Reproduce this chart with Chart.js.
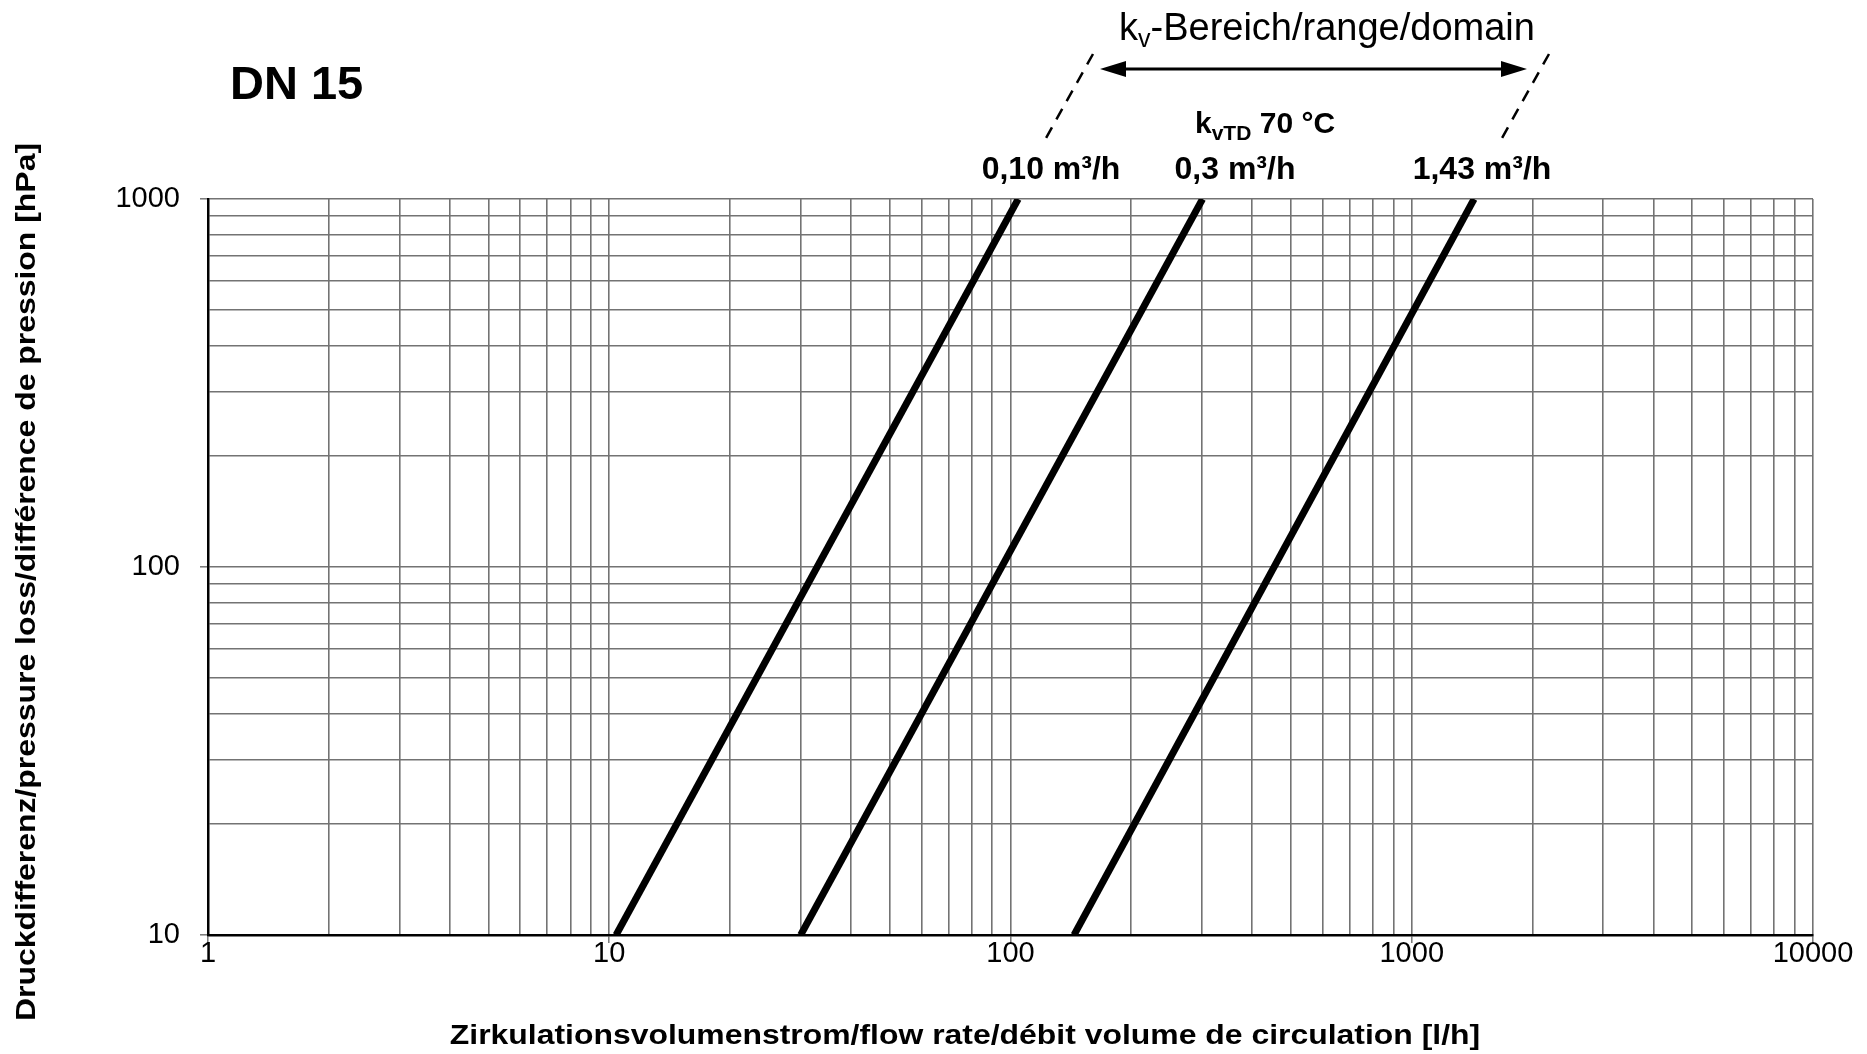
<!DOCTYPE html>
<html>
<head>
<meta charset="utf-8">
<title>DN 15</title>
<script src="https://cdn.jsdelivr.net/npm/chart.js@4.4.1/dist/chart.umd.min.js"></script>
<style>
  html, body { margin: 0; padding: 0; background: #fff; }
  #wrap { width: 1867px; height: 1054px; }
</style>
</head>
<body>
<div id="wrap"><canvas id="chart"></canvas></div>
<script>
// pressure difference at both ends of each line [hPa]
var pressureHpa = [10, 1000];
// flow rate [l/h] for each kv line
var flowKv010 = [10.4, 104.5];
var flowKv03 = [30, 301];
var flowKv143 = [144, 1430];
var lineLabels = ['0,10 m³/h', '0,3 m³/h', '1,43 m³/h'];

var xTickLabels = [1, 10, 100, 1000, 10000];
var yTickLabels = [10, 100, 1000];

var FONT = '"Liberation Sans", Arial, sans-serif';

// all 1..9 grid steps inside each decade
function logGrid(decades) {
    var out = [];
    for (var i = 0; i < decades.length - 1; i++) {
        for (var s = 1; s < 10; s++) out.push(decades[i] * s);
    }
    out.push(decades[decades.length - 1]);
    return out;
}

function makeSet(xs, label) {
    return {
        label: label,
        data: xs.map(function (x, i) { return { x: x, y: pressureHpa[i] }; }),
        showLine: true,
        borderColor: '#000',
        borderWidth: 7,
        pointRadius: 0,
        borderCapStyle: 'butt',
        clip: 0
    };
}

function drawText(ctx, parts, x, y, align) {
    // parts: [text, font, dy]
    var total = 0;
    parts.forEach(function (p) { ctx.font = p[1]; total += ctx.measureText(p[0]).width; });
    var cx = align === 'center' ? x - total / 2 : x;
    parts.forEach(function (p) {
        ctx.font = p[1];
        ctx.fillText(p[0], cx, y + (p[2] || 0));
        cx += ctx.measureText(p[0]).width;
    });
}

var annotations = {
    id: 'annotations',
    afterDraw: function (chart) {
        var ctx = chart.ctx;
        ctx.save();
        ctx.fillStyle = '#000';
        ctx.strokeStyle = '#000';
        ctx.textBaseline = 'alphabetic';
        ctx.textAlign = 'left';

        ctx.font = 'bold 47px ' + FONT;
        ctx.fillText('DN 15', 230, 99);

        drawText(ctx, [
            ['k', '38px ' + FONT, 0],
            ['v', '25px ' + FONT, 7],
            ['-Bereich/range/domain', '38px ' + FONT, 0]
        ], 1119, 40, 'left');

        drawText(ctx, [
            ['k', 'bold 30px ' + FONT, 0],
            ['vTD', 'bold 21px ' + FONT, 7],
            [' 70 °C', 'bold 30px ' + FONT, 0]
        ], 1195, 133, 'left');

        ctx.font = 'bold 32px ' + FONT;
        ctx.textAlign = 'center';
        ctx.fillText(lineLabels[0], 1051, 179);
        ctx.fillText(lineLabels[1], 1235, 179);
        ctx.fillText(lineLabels[2], 1482, 179);

        // double arrow
        var ay = 69, ax1 = 1100, ax2 = 1527;
        ctx.lineWidth = 3;
        ctx.beginPath();
        ctx.moveTo(ax1 + 20, ay);
        ctx.lineTo(ax2 - 20, ay);
        ctx.stroke();
        ctx.beginPath();
        ctx.moveTo(ax1, ay); ctx.lineTo(ax1 + 26, ay - 8); ctx.lineTo(ax1 + 26, ay + 8); ctx.closePath();
        ctx.fill();
        ctx.beginPath();
        ctx.moveTo(ax2, ay); ctx.lineTo(ax2 - 26, ay - 8); ctx.lineTo(ax2 - 26, ay + 8); ctx.closePath();
        ctx.fill();

        // dashed guides
        ctx.lineWidth = 2.5;
        ctx.setLineDash([12, 9]);
        ctx.beginPath();
        ctx.moveTo(1093, 54); ctx.lineTo(1046, 138);
        ctx.moveTo(1549, 54); ctx.lineTo(1502, 138);
        ctx.stroke();
        ctx.setLineDash([]);

        // axis titles, glyphs slightly widened as in the original
        ctx.font = 'bold 28px ' + FONT;
        ctx.textAlign = 'center';
        ctx.textBaseline = 'middle';
        ctx.save();
        ctx.translate(965, 1036);
        ctx.scale(1.14, 1);
        ctx.fillText('Zirkulationsvolumenstrom/flow rate/débit volume de circulation [l/h]', 0, 0);
        ctx.restore();

        ctx.save();
        ctx.translate(27, 582);
        ctx.rotate(-Math.PI / 2);
        ctx.scale(1.14, 1);
        ctx.fillText('Druckdifferenz/pressure loss/différence de pression [hPa]', 0, 0);
        ctx.restore();

        ctx.restore();
    }
};

function decadeTick(labels) {
    return function (c) {
        return c.tick && labels.indexOf(c.tick.value) >= 0 ? '#777' : 'rgba(0,0,0,0)';
    };
}

new Chart(document.getElementById('chart'), {
    type: 'scatter',
    data: {
        datasets: [
            makeSet(flowKv010, lineLabels[0]),
            makeSet(flowKv03, lineLabels[1]),
            makeSet(flowKv143, lineLabels[2])
        ]
    },
    options: {
        responsive: true,
        maintainAspectRatio: false,
        animation: false,
        events: [],
        layout: { padding: { top: 199, right: 54, left: 0, bottom: 0 } },
        plugins: { legend: { display: false }, tooltip: { enabled: false } },
        scales: {
            x: {
                type: 'logarithmic',
                min: 1,
                max: 10000,
                afterBuildTicks: function (s) {
                    s.ticks = logGrid(xTickLabels).map(function (v) { return { value: v }; });
                },
                afterFit: function (s) { s.height = 119; },
                grid: {
                    color: '#737373',
                    lineWidth: 1.6,
                    tickLength: 8,
                    tickColor: decadeTick(xTickLabels),
                    tickWidth: 1.5
                },
                border: { color: '#000', width: 2.5 },
                ticks: {
                    autoSkip: false,
                    maxRotation: 0,
                    padding: -6,
                    color: '#000',
                    font: { family: FONT, size: 29 },
                    callback: function (v) { return xTickLabels.indexOf(v) >= 0 ? String(v) : ''; }
                }
            },
            y: {
                type: 'logarithmic',
                min: 10,
                max: 1000,
                afterBuildTicks: function (s) {
                    s.ticks = logGrid(yTickLabels).map(function (v) { return { value: v }; });
                },
                afterFit: function (s) { s.width = 208; },
                grid: {
                    color: '#737373',
                    lineWidth: 1.6,
                    tickLength: 8,
                    tickColor: decadeTick(yTickLabels),
                    tickWidth: 1.5
                },
                border: { color: '#000', width: 2.5 },
                ticks: {
                    autoSkip: false,
                    padding: 20,
                    color: '#000',
                    font: { family: FONT, size: 29 },
                    callback: function (v) { return yTickLabels.indexOf(v) >= 0 ? String(v) : ''; }
                }
            }
        }
    },
    plugins: [annotations]
});
</script>
</body>
</html>
